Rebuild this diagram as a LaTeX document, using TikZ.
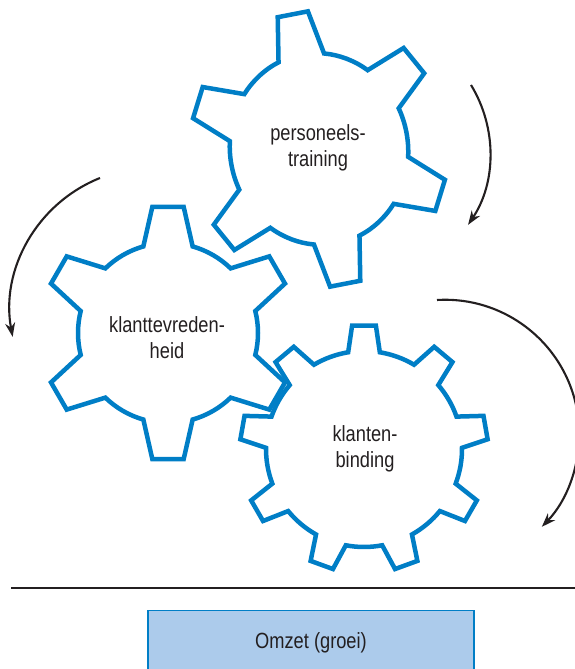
\documentclass[tikz,border=0pt]{standalone}
\usepackage{fontspec}
\setmainfont{Liberation Sans}[FakeStretch=0.83]
\usetikzlibrary{arrows.meta}

\definecolor{gearblue}{RGB}{0,126,198}
\definecolor{omzetfill}{RGB}{172,203,235}
\definecolor{inkgray}{RGB}{35,31,32}

\tikzset{
	cog/.style={draw=gearblue, line width=4.5pt, line join=miter},
	cogtext/.style={align=center, text=inkgray, font=\fontsize{22}{26}\selectfont},
	turn/.style={draw=inkgray, line width=2.1pt, -{Stealth[length=14pt,width=10pt]}},
	ground/.style={draw=inkgray, line width=2.5pt},
	omzetbox/.style={draw=gearblue, line width=1.2pt, fill=omzetfill, text=inkgray,
		font=\fontsize{22}{26}\selectfont, minimum width=326pt, minimum height=64pt, anchor=north}
}

% #1 placement, #2 tooth step, #3 root radius, #4 tip radius, #5 half base, #6 half tip
\newcommand{\cogwheel}[6]{%
	\begin{scope}[#1]
		\draw[cog] (-#5:#3) \foreach \a in {0,#2,...,359} {
			-- ({\a-#6}:#4) -- ({\a+#6}:#4) -- ({\a+#5}:#3)
			arc[start angle=\a+#5, end angle=\a+#2-#5, radius=#3]
		} -- cycle;
	\end{scope}}

\begin{document}
\begin{tikzpicture}[x=1pt,y=1pt]
	\useasboundingbox (0,0) rectangle (575,669);
	
	% gears
	\cogwheel{shift={(319,520)}, rotate=101, xscale=1.08}{60}{89}{128}{15.1}{6.9}
	\cogwheel{shift={(168,336)}, rotate=90}{60}{90}{127}{15.9}{7.1}
	\cogwheel{shift={(364,220)}, rotate=90}{40}{98}{124}{9.3}{5.5}
	
	\node[cogtext] (training) at (318,521.6) {personeels-\\training};
	\node[cogtext] (tevredenheid) at (167,331.2) {klanttevreden-\\heid};
	\node[cogtext] (binding) at (365,219.9) {klanten-\\binding};
	
	% turning arrows
	\coordinate (turnA) at (471,584);
	\coordinate (turnB) at (100,491);
	\coordinate (turnC) at (437,369);
	\draw[turn] (turnA) arc[start angle=31.4, end angle=-33.8, radius=129.8];
	\draw[turn] (turnB) arc[start angle=111.8, end angle=190.6, radius=142.8];
	\draw[turn] (turnC) arc[start angle=93.4, end angle=-43.8, radius=134.2];
	
	\draw[ground] (11,81) -- (575,81);
	\node[omzetbox] (omzet) at (311,59) {Omzet (groei)};
\end{tikzpicture}
\end{document}
